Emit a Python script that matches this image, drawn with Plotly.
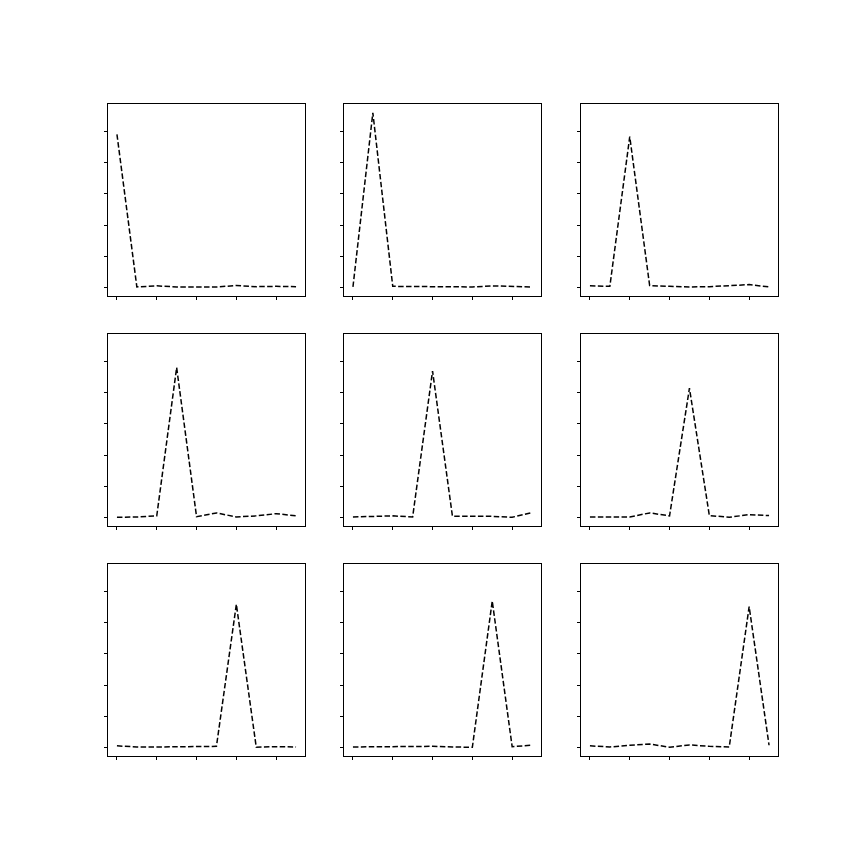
import plotly.graph_objects as go

x_vals = [0, 1, 2, 3, 4, 5, 6, 7, 8, 9]
x_ticks = [0, 2, 4, 6, 8]
y_ticks = [0.0, 0.2, 0.4, 0.6, 0.8, 1.0]

series_1 = [0.981, 0.004, 0.011, 0.004, 0.004, 0.004, 0.013, 0.006, 0.008, 0.006]
series_2 = [0.004, 1.119, 0.008, 0.008, 0.006, 0.006, 0.004, 0.011, 0.006, 0.004]
series_3 = [0.011, 0.008, 0.966, 0.013, 0.008, 0.004, 0.006, 0.011, 0.019, 0.004]
series_4 = [0.002, 0.004, 0.011, 0.960, 0.006, 0.030, 0.004, 0.011, 0.025, 0.011]
series_5 = [0.004, 0.006, 0.011, 0.004, 0.938, 0.008, 0.008, 0.008, 0.002, 0.032]
series_6 = [0.004, 0.006, 0.004, 0.030, 0.011, 0.828, 0.013, 0.002, 0.019, 0.013]
series_7 = [0.011, 0.004, 0.004, 0.004, 0.004, 0.008, 0.917, 0.002, 0.006, 0.004]
series_8 = [0.004, 0.006, 0.008, 0.008, 0.008, 0.004, 0.002, 0.938, 0.006, 0.015]
series_9 = [0.011, 0.004, 0.015, 0.023, 0.002, 0.017, 0.008, 0.004, 0.902, 0.015]

all_series = [series_1, series_2, series_3, series_4, series_5,
              series_6, series_7, series_8, series_9]

W = H = 864
col_px = [(108, 305), (344, 541), (581, 778)]
row_px = [(104, 296), (334, 526), (564, 756)]

ymin = min(min(s) for s in all_series)
ymax = max(max(s) for s in all_series)
pad = 0.05 * (ymax - ymin)
y_range = [ymin - pad, ymax + pad]
x_range = [-0.45, 9.45]

fig = go.Figure()
layout = dict(width=W, height=H, margin=dict(l=0, r=0, t=0, b=0),
              paper_bgcolor="white", plot_bgcolor="white", showlegend=False)

axis_common = dict(showgrid=False, zeroline=False, showline=True, mirror=True,
                   linecolor="black", linewidth=0.8, ticks="outside",
                   ticklen=3.5, tickwidth=0.8, tickcolor="black",
                   showticklabels=False)

for i, s in enumerate(all_series):
    r, c = divmod(i, 3)
    n = "" if i == 0 else str(i + 1)
    x0, x1 = col_px[c]
    y0, y1 = row_px[r]
    layout["xaxis" + n] = dict(axis_common, domain=[x0 / W, x1 / W],
                               range=x_range, tickvals=x_ticks,
                               anchor="y" + n)
    layout["yaxis" + n] = dict(axis_common, domain=[1 - y1 / H, 1 - y0 / H],
                               range=y_range, tickvals=y_ticks,
                               anchor="x" + n)
    fig.add_trace(go.Scatter(x=x_vals, y=s, mode="lines",
                             line=dict(color="black", width=1.5,
                                       dash="5.5px,2.4px"),
                             xaxis="x" + n, yaxis="y" + n))

fig.update_layout(**layout)
fig.write_html("out.html")
